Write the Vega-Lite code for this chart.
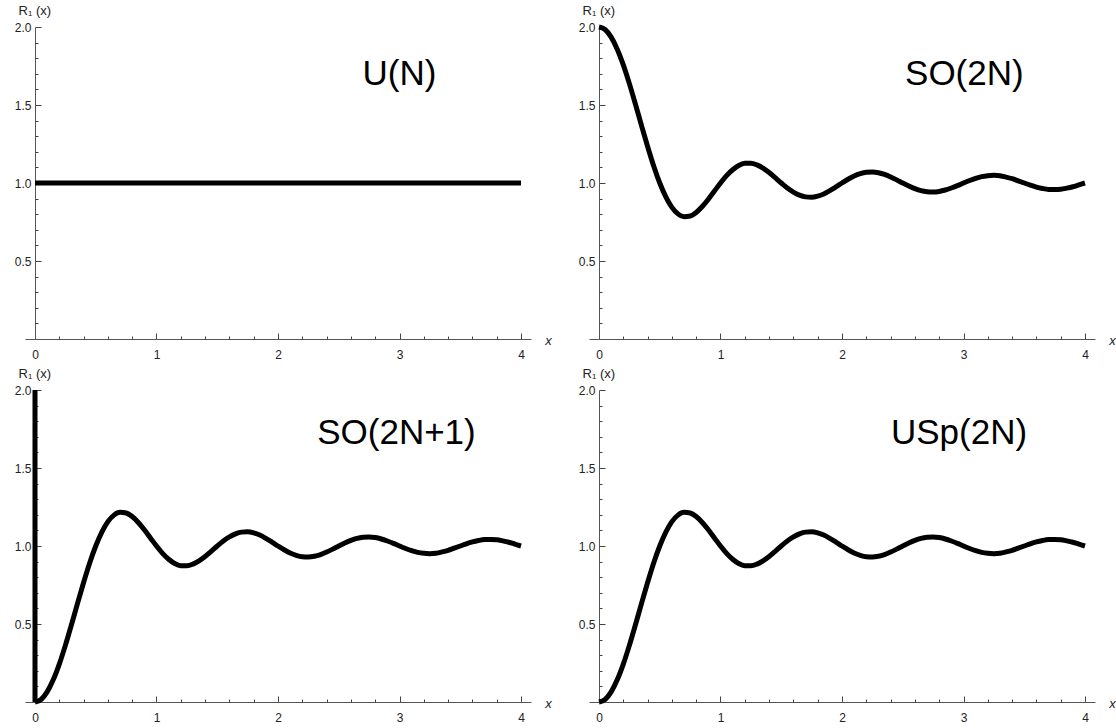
{
  "$schema": "https://vega.github.io/schema/vega-lite/v6.json",
  "background": "white",
  "padding": {"left": 14, "top": 4, "right": 0, "bottom": 0},
  "config": {
    "view": {"stroke": null},
    "font": "Liberation Sans",
    "axis": {"grid": false, "ticks": true, "tickWidth": 1, "domainColor": "#555", "tickColor": "#444", "labelColor": "#222", "labelFont": "Liberation Sans", "labelFontSize": 12, "labelFlush": false, "labelOverlap": false, "labelBound": false, "titleFont": "Liberation Sans", "titleFontWeight": "normal", "titleColor": "#222"}
  },
  "datasets": {
    "curves": [
      {"x":0.00,"U":1,"SO2N":2.000,"USp":0.000},
      {"x":0.05,"U":1,"SO2N":1.984,"USp":0.016},
      {"x":0.10,"U":1,"SO2N":1.935,"USp":0.065},
      {"x":0.15,"U":1,"SO2N":1.858,"USp":0.142},
      {"x":0.20,"U":1,"SO2N":1.757,"USp":0.243},
      {"x":0.25,"U":1,"SO2N":1.637,"USp":0.363},
      {"x":0.30,"U":1,"SO2N":1.505,"USp":0.495},
      {"x":0.35,"U":1,"SO2N":1.368,"USp":0.632},
      {"x":0.40,"U":1,"SO2N":1.234,"USp":0.766},
      {"x":0.45,"U":1,"SO2N":1.109,"USp":0.891},
      {"x":0.50,"U":1,"SO2N":1.000,"USp":1.000},
      {"x":0.55,"U":1,"SO2N":0.911,"USp":1.089},
      {"x":0.60,"U":1,"SO2N":0.844,"USp":1.156},
      {"x":0.65,"U":1,"SO2N":0.802,"USp":1.198},
      {"x":0.70,"U":1,"SO2N":0.784,"USp":1.216},
      {"x":0.75,"U":1,"SO2N":0.788,"USp":1.212},
      {"x":0.80,"U":1,"SO2N":0.811,"USp":1.189},
      {"x":0.85,"U":1,"SO2N":0.849,"USp":1.151},
      {"x":0.90,"U":1,"SO2N":0.896,"USp":1.104},
      {"x":0.95,"U":1,"SO2N":0.948,"USp":1.052},
      {"x":1.00,"U":1,"SO2N":1.000,"USp":1.000},
      {"x":1.05,"U":1,"SO2N":1.047,"USp":0.953},
      {"x":1.10,"U":1,"SO2N":1.085,"USp":0.915},
      {"x":1.15,"U":1,"SO2N":1.112,"USp":0.888},
      {"x":1.20,"U":1,"SO2N":1.126,"USp":0.874},
      {"x":1.25,"U":1,"SO2N":1.127,"USp":0.873},
      {"x":1.30,"U":1,"SO2N":1.116,"USp":0.884},
      {"x":1.35,"U":1,"SO2N":1.095,"USp":0.905},
      {"x":1.40,"U":1,"SO2N":1.067,"USp":0.933},
      {"x":1.45,"U":1,"SO2N":1.034,"USp":0.966},
      {"x":1.50,"U":1,"SO2N":1.000,"USp":1.000},
      {"x":1.55,"U":1,"SO2N":0.968,"USp":1.032},
      {"x":1.60,"U":1,"SO2N":0.942,"USp":1.058},
      {"x":1.65,"U":1,"SO2N":0.922,"USp":1.078},
      {"x":1.70,"U":1,"SO2N":0.911,"USp":1.089},
      {"x":1.75,"U":1,"SO2N":0.909,"USp":1.091},
      {"x":1.80,"U":1,"SO2N":0.916,"USp":1.084},
      {"x":1.85,"U":1,"SO2N":0.930,"USp":1.070},
      {"x":1.90,"U":1,"SO2N":0.951,"USp":1.049},
      {"x":1.95,"U":1,"SO2N":0.975,"USp":1.025},
      {"x":2.00,"U":1,"SO2N":1.000,"USp":1.000},
      {"x":2.05,"U":1,"SO2N":1.024,"USp":0.976},
      {"x":2.10,"U":1,"SO2N":1.045,"USp":0.955},
      {"x":2.15,"U":1,"SO2N":1.060,"USp":0.940},
      {"x":2.20,"U":1,"SO2N":1.069,"USp":0.931},
      {"x":2.25,"U":1,"SO2N":1.071,"USp":0.929},
      {"x":2.30,"U":1,"SO2N":1.066,"USp":0.934},
      {"x":2.35,"U":1,"SO2N":1.055,"USp":0.945},
      {"x":2.40,"U":1,"SO2N":1.039,"USp":0.961},
      {"x":2.45,"U":1,"SO2N":1.020,"USp":0.980},
      {"x":2.50,"U":1,"SO2N":1.000,"USp":1.000},
      {"x":2.55,"U":1,"SO2N":0.981,"USp":1.019},
      {"x":2.60,"U":1,"SO2N":0.964,"USp":1.036},
      {"x":2.65,"U":1,"SO2N":0.951,"USp":1.049},
      {"x":2.70,"U":1,"SO2N":0.944,"USp":1.056},
      {"x":2.75,"U":1,"SO2N":0.942,"USp":1.058},
      {"x":2.80,"U":1,"SO2N":0.946,"USp":1.054},
      {"x":2.85,"U":1,"SO2N":0.955,"USp":1.045},
      {"x":2.90,"U":1,"SO2N":0.968,"USp":1.032},
      {"x":2.95,"U":1,"SO2N":0.983,"USp":1.017},
      {"x":3.00,"U":1,"SO2N":1.000,"USp":1.000},
      {"x":3.05,"U":1,"SO2N":1.016,"USp":0.984},
      {"x":3.10,"U":1,"SO2N":1.030,"USp":0.970},
      {"x":3.15,"U":1,"SO2N":1.041,"USp":0.959},
      {"x":3.20,"U":1,"SO2N":1.047,"USp":0.953},
      {"x":3.25,"U":1,"SO2N":1.049,"USp":0.951},
      {"x":3.30,"U":1,"SO2N":1.046,"USp":0.954},
      {"x":3.35,"U":1,"SO2N":1.038,"USp":0.962},
      {"x":3.40,"U":1,"SO2N":1.028,"USp":0.972},
      {"x":3.45,"U":1,"SO2N":1.014,"USp":0.986},
      {"x":3.50,"U":1,"SO2N":1.000,"USp":1.000},
      {"x":3.55,"U":1,"SO2N":0.986,"USp":1.014},
      {"x":3.60,"U":1,"SO2N":0.974,"USp":1.026},
      {"x":3.65,"U":1,"SO2N":0.965,"USp":1.035},
      {"x":3.70,"U":1,"SO2N":0.959,"USp":1.041},
      {"x":3.75,"U":1,"SO2N":0.958,"USp":1.042},
      {"x":3.80,"U":1,"SO2N":0.960,"USp":1.040},
      {"x":3.85,"U":1,"SO2N":0.967,"USp":1.033},
      {"x":3.90,"U":1,"SO2N":0.976,"USp":1.024},
      {"x":3.95,"U":1,"SO2N":0.988,"USp":1.012},
      {"x":4.00,"U":1,"SO2N":1.000,"USp":1.000}
    ],
    "delta": [{"x":0,"y":0},{"x":0,"y":2}]
  },
  "columns": 2,
  "bounds": "flush",
  "spacing": {"row": 51, "column": 58},
  "concat": [
    {
      "width": 506, "height": 312,
      "resolve": {"axis": {"x": "independent", "y": "independent"}},
      "layer": [
        {
          "data": {"name": "curves"},
          "mark": {"type": "line", "stroke": "black", "strokeWidth": 5, "interpolate": "monotone"},
          "encoding": {
            "x": {"field": "x", "type": "quantitative", "scale": {"domain": [-0.0823, 4.0823], "nice": false, "zero": false},
              "axis": {"orient": "bottom", "values": [0,1,2,3,4], "format": "d", "ticks": true, "tickSize": -6, "labelPadding": 16, "title": "x", "titleFontStyle": "italic", "titleFontSize": 13, "titleX": 523, "titleY": 1, "titleAlign": "center", "titleBaseline": "middle"}},
            "y": {"field": "U", "type": "quantitative", "scale": {"domain": [0, 2], "nice": false, "zero": false},
              "axis": {"orient": "left", "offset": -10, "values": [0.5,1,1.5,2], "format": ".1f", "ticks": true, "tickSize": -6, "labelPadding": 10, "title": "R₁ (x)", "titleAngle": 0, "titleFontSize": 13, "titleAlign": "left", "titleBaseline": "middle", "titleX": -17, "titleY": -17}}
          }
        },
        {
          "data": {"values": [{"label": "U(N)"}]},
          "mark": {"type": "text", "fontSize": 35, "font": "Liberation Sans", "align": "center", "baseline": "alphabetic", "color": "black"},
          "encoding": {
            "x": {"datum": 3.0, "type": "quantitative", "axis": {"orient": "bottom", "values": [0.2,0.4,0.6,0.8,1.2,1.4,1.6,1.8,2.2,2.4,2.6,2.8,3.2,3.4,3.6,3.8], "ticks": true, "tickSize": -3, "labels": false, "domain": false, "title": null}},
            "y": {"datum": 1.627, "type": "quantitative", "axis": {"orient": "left", "offset": -10, "values": [0.1,0.2,0.3,0.4,0.6,0.7,0.8,0.9,1.1,1.2,1.3,1.4,1.6,1.7,1.8,1.9], "ticks": true, "tickSize": -3, "labels": false, "domain": false, "title": null}},
            "text": {"field": "label"}
          }
        }
      ]
    },
    {
      "width": 506, "height": 312,
      "resolve": {"axis": {"x": "independent", "y": "independent"}},
      "layer": [
        {
          "data": {"name": "curves"},
          "mark": {"type": "line", "stroke": "black", "strokeWidth": 5, "interpolate": "monotone"},
          "encoding": {
            "x": {"field": "x", "type": "quantitative", "scale": {"domain": [-0.0823, 4.0823], "nice": false, "zero": false},
              "axis": {"orient": "bottom", "values": [0,1,2,3,4], "format": "d", "ticks": true, "tickSize": -6, "labelPadding": 16, "title": "x", "titleFontStyle": "italic", "titleFontSize": 13, "titleX": 523, "titleY": 1, "titleAlign": "center", "titleBaseline": "middle"}},
            "y": {"field": "SO2N", "type": "quantitative", "scale": {"domain": [0, 2], "nice": false, "zero": false},
              "axis": {"orient": "left", "offset": -10, "values": [0.5,1,1.5,2], "format": ".1f", "ticks": true, "tickSize": -6, "labelPadding": 10, "title": "R₁ (x)", "titleAngle": 0, "titleFontSize": 13, "titleAlign": "left", "titleBaseline": "middle", "titleX": -17, "titleY": -17}}
          }
        },
        {
          "data": {"values": [{"label": "SO(2N)"}]},
          "mark": {"type": "text", "fontSize": 35, "font": "Liberation Sans", "align": "center", "baseline": "alphabetic", "color": "black"},
          "encoding": {
            "x": {"datum": 3.007, "type": "quantitative", "axis": {"orient": "bottom", "values": [0.2,0.4,0.6,0.8,1.2,1.4,1.6,1.8,2.2,2.4,2.6,2.8,3.2,3.4,3.6,3.8], "ticks": true, "tickSize": -3, "labels": false, "domain": false, "title": null}},
            "y": {"datum": 1.627, "type": "quantitative", "axis": {"orient": "left", "offset": -10, "values": [0.1,0.2,0.3,0.4,0.6,0.7,0.8,0.9,1.1,1.2,1.3,1.4,1.6,1.7,1.8,1.9], "ticks": true, "tickSize": -3, "labels": false, "domain": false, "title": null}},
            "text": {"field": "label"}
          }
        }
      ]
    },
    {
      "width": 506, "height": 312,
      "resolve": {"axis": {"x": "independent", "y": "independent"}},
      "layer": [
        {
          "data": {"name": "delta"},
          "mark": {"type": "line", "stroke": "black", "strokeWidth": 5},
          "encoding": {
            "x": {"field": "x", "type": "quantitative", "scale": {"domain": [-0.0823, 4.0823], "nice": false, "zero": false},
              "axis": {"orient": "bottom", "values": [0,1,2,3,4], "format": "d", "ticks": true, "tickSize": -6, "labelPadding": 16, "title": "x", "titleFontStyle": "italic", "titleFontSize": 13, "titleX": 523, "titleY": 1, "titleAlign": "center", "titleBaseline": "middle"}},
            "y": {"field": "y", "type": "quantitative", "scale": {"domain": [0, 2], "nice": false, "zero": false},
              "axis": {"orient": "left", "offset": -10, "values": [0.5,1,1.5,2], "format": ".1f", "ticks": true, "tickSize": -6, "labelPadding": 10, "title": "R₁ (x)", "titleAngle": 0, "titleFontSize": 13, "titleAlign": "left", "titleBaseline": "middle", "titleX": -17, "titleY": -17}}
          }
        },
        {
          "data": {"name": "curves"},
          "mark": {"type": "line", "stroke": "black", "strokeWidth": 5, "interpolate": "monotone"},
          "encoding": {"x": {"field": "x", "type": "quantitative", "axis": null}, "y": {"field": "USp", "type": "quantitative", "axis": null}}
        },
        {
          "data": {"values": [{"label": "SO(2N+1)"}]},
          "mark": {"type": "text", "fontSize": 35, "font": "Liberation Sans", "align": "center", "baseline": "alphabetic", "color": "black"},
          "encoding": {
            "x": {"datum": 2.975, "type": "quantitative", "axis": {"orient": "bottom", "values": [0.2,0.4,0.6,0.8,1.2,1.4,1.6,1.8,2.2,2.4,2.6,2.8,3.2,3.4,3.6,3.8], "ticks": true, "tickSize": -3, "labels": false, "domain": false, "title": null}},
            "y": {"datum": 1.652, "type": "quantitative", "axis": {"orient": "left", "offset": -10, "values": [0.1,0.2,0.3,0.4,0.6,0.7,0.8,0.9,1.1,1.2,1.3,1.4,1.6,1.7,1.8,1.9], "ticks": true, "tickSize": -3, "labels": false, "domain": false, "title": null}},
            "text": {"field": "label"}
          }
        }
      ]
    },
    {
      "width": 506, "height": 312,
      "resolve": {"axis": {"x": "independent", "y": "independent"}},
      "layer": [
        {
          "data": {"name": "curves"},
          "mark": {"type": "line", "stroke": "black", "strokeWidth": 5, "interpolate": "monotone"},
          "encoding": {
            "x": {"field": "x", "type": "quantitative", "scale": {"domain": [-0.0823, 4.0823], "nice": false, "zero": false},
              "axis": {"orient": "bottom", "values": [0,1,2,3,4], "format": "d", "ticks": true, "tickSize": -6, "labelPadding": 16, "title": "x", "titleFontStyle": "italic", "titleFontSize": 13, "titleX": 523, "titleY": 1, "titleAlign": "center", "titleBaseline": "middle"}},
            "y": {"field": "USp", "type": "quantitative", "scale": {"domain": [0, 2], "nice": false, "zero": false},
              "axis": {"orient": "left", "offset": -10, "values": [0.5,1,1.5,2], "format": ".1f", "ticks": true, "tickSize": -6, "labelPadding": 10, "title": "R₁ (x)", "titleAngle": 0, "titleFontSize": 13, "titleAlign": "left", "titleBaseline": "middle", "titleX": -17, "titleY": -17}}
          }
        },
        {
          "data": {"values": [{"label": "USp(2N)"}]},
          "mark": {"type": "text", "fontSize": 35, "font": "Liberation Sans", "align": "center", "baseline": "alphabetic", "color": "black"},
          "encoding": {
            "x": {"datum": 2.963, "type": "quantitative", "axis": {"orient": "bottom", "values": [0.2,0.4,0.6,0.8,1.2,1.4,1.6,1.8,2.2,2.4,2.6,2.8,3.2,3.4,3.6,3.8], "ticks": true, "tickSize": -3, "labels": false, "domain": false, "title": null}},
            "y": {"datum": 1.652, "type": "quantitative", "axis": {"orient": "left", "offset": -10, "values": [0.1,0.2,0.3,0.4,0.6,0.7,0.8,0.9,1.1,1.2,1.3,1.4,1.6,1.7,1.8,1.9], "ticks": true, "tickSize": -3, "labels": false, "domain": false, "title": null}},
            "text": {"field": "label"}
          }
        }
      ]
    }
  ]
}
